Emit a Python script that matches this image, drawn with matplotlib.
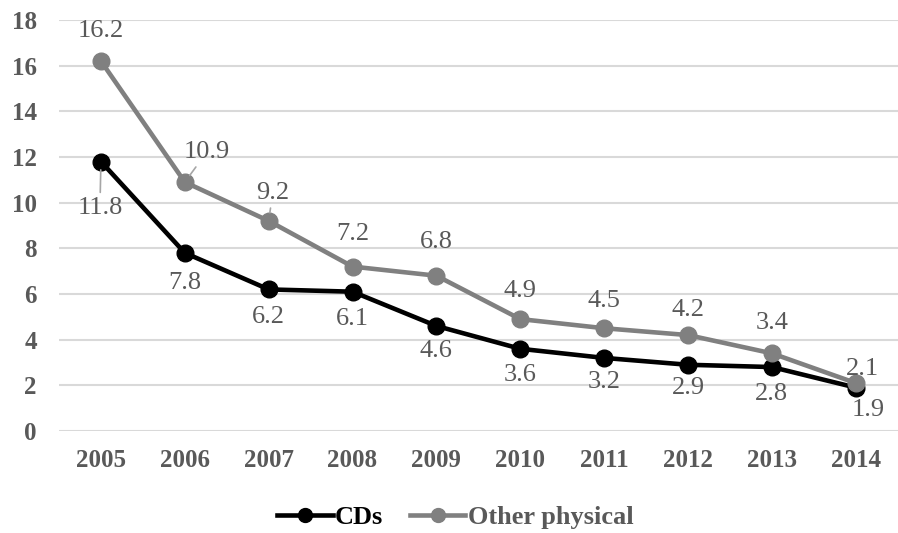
import matplotlib
matplotlib.use("Agg")
import matplotlib.pyplot as plt
from matplotlib.lines import Line2D

# data
years = ['2005', '2006', '2007', '2008', '2009', '2010', '2011', '2012', '2013', '2014']
cds = [11.8, 7.8, 6.2, 6.1, 4.6, 3.6, 3.2, 2.9, 2.8, 1.9]
other = [16.2, 10.9, 9.2, 7.2, 6.8, 4.9, 4.5, 4.2, 3.4, 2.1]

plt.rcParams['font.family'] = ['Liberation Serif', 'DejaVu Serif']

fig = plt.figure(figsize=(8.98, 5.33), dpi=100)
ax = fig.add_axes([0.0657, 0.1914, 0.934, 0.7711])

x = list(range(len(years)))
grey = '#808080'
txt = '#595959'

ax.plot(x, cds, '-o', color='black', lw=3.3, ms=12, zorder=3)
ax.plot(x, other, '-o', color=grey, lw=3.3, ms=12, zorder=4)

# label offsets in pixels (dx, dy), dy positive = up
other_off = [(0, 30), (22, 30), (4, 28), (0, 33), (0, 34), (0, 28), (0, 27), (0, 25), (0, 30), (7, 14)]
cds_off = [(-1, -46), (0, -30), (0, -28), (0, -27), (0, -25), (0, -26), (0, -24), (0, -23), (0, -27), (12, -22)]
leader = {('o', 1), ('o', 2), ('c', 0)}

def leader_props():
    return dict(arrowstyle='-', color='#a6a6a6', lw=1.2, shrinkA=1, shrinkB=6)

for i in x:
    dx, dy = other_off[i]
    ap = leader_props() if ('o', i) in leader else None
    ax.annotate(f'{other[i]:.1f}', (i, other[i]), xytext=(dx * 0.72, dy * 0.72),
                textcoords='offset points', ha='center', va='center',
                fontsize=19, color=txt, arrowprops=ap, zorder=5)
    dx, dy = cds_off[i]
    ap = leader_props() if ('c', i) in leader else None
    ax.annotate(f'{cds[i]:.1f}', (i, cds[i]), xytext=(dx * 0.72, dy * 0.72),
                textcoords='offset points', ha='center', va='center',
                fontsize=19, color=txt, arrowprops=ap, zorder=5)

ax.set_xlim(-0.5, len(years) - 0.5)
ax.set_ylim(0, 18)
ax.set_yticks(range(0, 19, 2))
ax.set_xticks(x)
ax.set_xticklabels(years)
ax.tick_params(length=0, labelsize=18, labelcolor=txt)
ax.xaxis.set_tick_params(pad=13)
ax.yaxis.set_tick_params(pad=16)
for lab in ax.get_xticklabels() + ax.get_yticklabels():
    lab.set_fontweight('bold')
ax.grid(axis='y', color='#d9d9d9', lw=1.5)
ax.set_axisbelow(True)
for s in ax.spines.values():
    s.set_visible(False)

handles = [Line2D([], [], color='black', lw=3.3, marker='o', ms=10),
           Line2D([], [], color=grey, lw=3.3, marker='o', ms=10)]
leg = fig.legend(handles, ['CDs', 'Other physical'], loc='center', bbox_to_anchor=(0.507, 0.03),
                 ncol=2, frameon=False, handlelength=2.1, handletextpad=0.1, columnspacing=1.0,
                 prop={'weight': 'bold', 'size': 19})
leg.get_texts()[0].set_color('black')
leg.get_texts()[1].set_color(txt)

fig.savefig('out.png', dpi=100)
